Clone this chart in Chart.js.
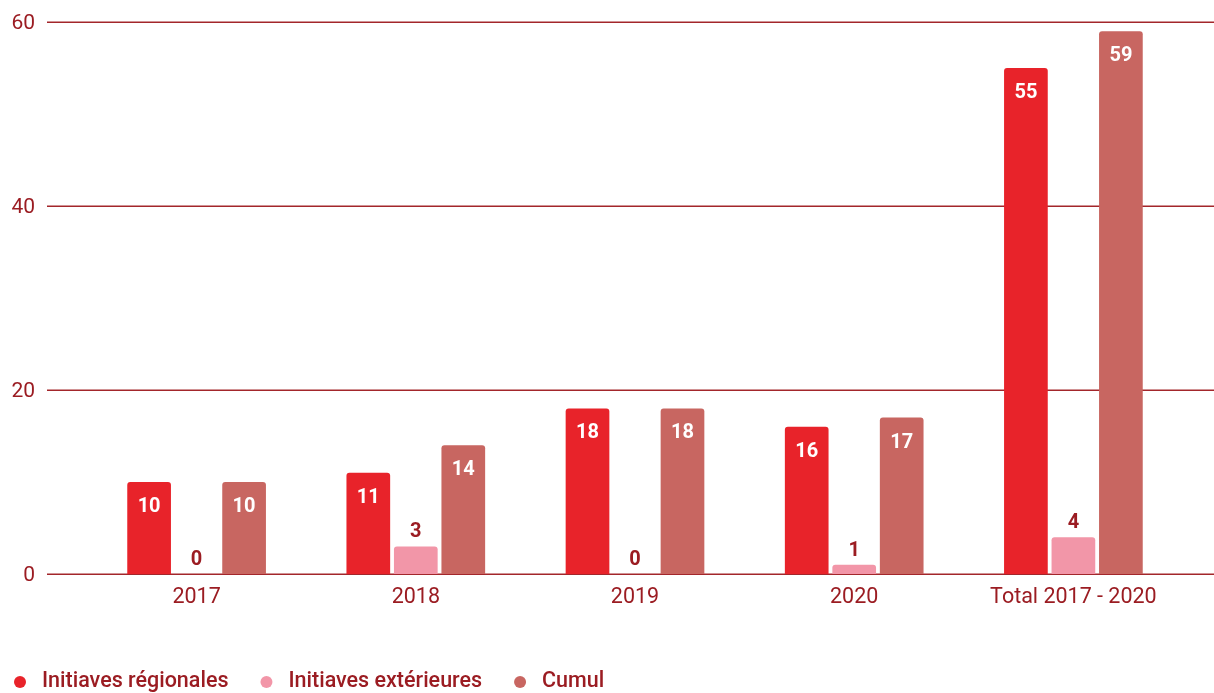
<!DOCTYPE html>
<html>
<head>
<meta charset="utf-8">
<script src="https://cdn.jsdelivr.net/npm/chart.js@4"></script>
<style>
  html, body { margin: 0; padding: 0; background: #fff; }
  #wrap { width: 1214px; height: 693px; }
</style>
</head>
<body>
<div id="wrap"><canvas id="chart" width="1214" height="693"></canvas></div>
<script>
const categories = ["2017", "2018", "2019", "2020", "Total 2017 - 2020"];
const regionales = [10, 11, 18, 16, 55];
const exterieures = [0, 3, 0, 1, 4];
const cumul = [10, 14, 18, 17, 59];
const yTicks = [0, 20, 40, 60];

const textColor = "#9b1c22";
const gridColor = "#a3262b";
const FONT = "Roboto, 'Liberation Sans', sans-serif";

// horizontal grid lines + y labels, wider than the chart area
const gridPlugin = {
  id: "wideGrid",
  beforeDatasetsDraw(chart) {
    const { ctx, scales: { y } } = chart;
    ctx.save();
    ctx.strokeStyle = gridColor;
    ctx.lineWidth = 1.5;
    ctx.fillStyle = textColor;
    ctx.font = "21px " + FONT;
    ctx.textAlign = "right";
    ctx.textBaseline = "middle";
    yTicks.forEach(v => {
      const py = Math.round(y.getPixelForValue(v)) + 0.25;
      ctx.beginPath();
      ctx.moveTo(47, py);
      ctx.lineTo(chart.width, py);
      ctx.stroke();
      ctx.fillText(v, 35, py + 1);
    });
    ctx.restore();
  }
};

// value labels: white inside tall bars, dark red above short ones
const labelPlugin = {
  id: "barLabels",
  afterDatasetsDraw(chart) {
    const { ctx } = chart;
    ctx.save();
    ctx.font = "700 20px " + FONT;
    ctx.textAlign = "center";
    ctx.textBaseline = "middle";
    chart.data.datasets.forEach((ds, i) => {
      chart.getDatasetMeta(i).data.forEach((bar, j) => {
        const v = ds.data[j];
        if (v >= 10) {
          ctx.fillStyle = "#ffffff";
          ctx.fillText(v, bar.x, bar.y + 25);
        } else {
          ctx.fillStyle = textColor;
          ctx.fillText(v, bar.x, bar.y - 14);
        }
      });
    });
    ctx.restore();
  }
};

// legend row at the bottom left
const legendPlugin = {
  id: "bottomLegend",
  afterDraw(chart) {
    const { ctx } = chart;
    ctx.save();
    ctx.font = "500 21.5px " + FONT;
    ctx.textBaseline = "middle";
    let x = 20;
    const cy = 682;
    chart.data.datasets.forEach(ds => {
      ctx.fillStyle = ds.backgroundColor;
      ctx.beginPath();
      ctx.arc(x, cy, 6, 0, Math.PI * 2);
      ctx.fill();
      ctx.fillStyle = textColor;
      ctx.fillText(ds.label, x + 22, cy);
      x = x + 22 + ctx.measureText(ds.label).width + 38;
    });
    ctx.restore();
  }
};

const barStyle = {
  borderRadius: { topLeft: 3, topRight: 3 },
  borderSkipped: "bottom",
  barPercentage: 0.92,
  categoryPercentage: 0.65
};

new Chart(document.getElementById("chart"), {
  type: "bar",
  data: {
    labels: categories,
    datasets: [
      { label: "Initiaves régionales", data: regionales, backgroundColor: "#e8232a", ...barStyle },
      { label: "Initiaves extérieures", data: exterieures, backgroundColor: "#f296a8", ...barStyle },
      { label: "Cumul", data: cumul, backgroundColor: "#c86661", ...barStyle }
    ]
  },
  options: {
    responsive: false,
    animation: false,
    layout: { padding: { top: 22, right: 31, left: 0, bottom: 0 } },
    plugins: {
      legend: { display: false },
      tooltip: { enabled: false }
    },
    scales: {
      x: {
        grid: { display: false, drawTicks: false },
        border: { display: false },
        ticks: { color: textColor, font: { family: FONT, size: 21.5 }, padding: 11 },
        afterFit(scale) { scale.height = 119; }
      },
      y: {
        min: 0,
        max: 60,
        grid: { display: false, drawTicks: false },
        border: { display: false },
        ticks: { display: false, stepSize: 20 },
        afterFit(scale) { scale.width = 87; }
      }
    }
  },
  plugins: [gridPlugin, labelPlugin, legendPlugin]
});
</script>
</body>
</html>
